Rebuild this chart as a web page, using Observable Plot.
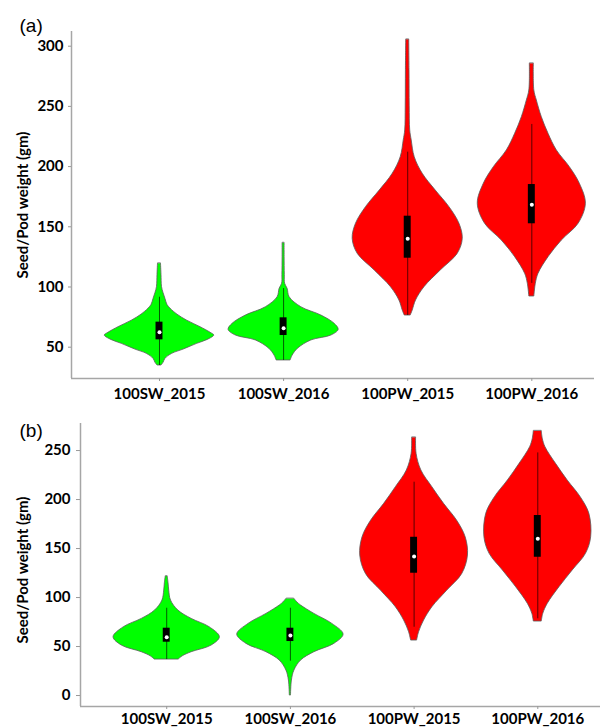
<!DOCTYPE html>
<html>
<head>
<meta charset="utf-8">
<script src="https://cdn.jsdelivr.net/npm/d3@7"></script>
<script src="https://cdn.jsdelivr.net/npm/@observablehq/plot@0.6"></script>
<style>
  html, body { margin: 0; padding: 0; background: #fff; }
  #chart { width: 603px; }
  #chart svg { display: block; }
</style>
</head>
<body>
<div id="chart"></div>
<script>
// ---------- DATA ----------
const categories = ["100SW_2015", "100SW_2016", "100PW_2015", "100PW_2016"];
const yTicksA = [50, 100, 150, 200, 250, 300];
const yTicksB = [0, 50, 100, 150, 200, 250];

// Violin profiles: [value (gm), relative half-width (density)]
// Panel (a)
const a_SW2015 = [[119.3,1.5],[110,2],[100,2.5],[95,4],[90,6],[85,8],[82,11],[77,18],[72,27.7],[66.6,41],[62,51],[59.7,54.7],[56,48],[52.8,37.7],[48,24],[44.5,12.7],[40.4,6],[37,4],[34.8,2]];
const a_SW2016 = [[136.4,1],[125,1],[110,1.2],[102.7,1.5],[98.5,4],[91.5,6],[83.2,17.7],[76.3,37.7],[69.4,51],[64.4,55],[59.7,47.7],[55.6,27.7],[48.7,14.3],[43,9],[39,7]];
const a_PW2015 = [[305.3,1.5],[280,1.8],[250,2],[230,2.5],[221.7,4],[207.8,7],[194,15],[180.1,28],[166.3,41.7],[152.5,51.7],[140,55],[127.6,50],[113.7,33],[99.8,16.7],[88.8,8.3],[80.5,5],[76.3,3]];
const a_PW2016 = [[285.4,2],[263.2,2.5],[254.9,5],[241,10],[227.2,16.7],[213.4,25],[199.5,38],[185.7,48],[169.1,54],[152.5,46.7],[138.6,30],[124.8,16.7],[111,6.7],[102.7,4],[92.1,2.5]];
// Panel (b)
const b_SW2015 = [[121.4,1],[115,1.8],[107.1,2.5],[96.9,4.3],[86.7,11.7],[78.2,25],[69.7,43],[59.5,53.3],[51,45],[44.2,25],[40,16],[36.7,12]];
const b_SW2016 = [[98.6,4],[95,7],[91.8,10.7],[83.3,24],[73.1,42],[62.2,53.3],[52.7,44],[44.2,24],[35.7,10.7],[25.5,4],[15.3,1.5],[0,0.6]];
const b_PW2015 = [[263,2],[246.6,2.5],[229.6,7.3],[212.6,18.3],[195.6,30],[178.6,43],[161.5,51.7],[142.9,54],[124.1,48.3],[107.1,33.3],[90.1,18.3],[76.5,10],[64.6,5],[56.1,3]];
const b_PW2016 = [[269.7,4],[262,5],[253.4,7.7],[236.4,18.3],[219.4,30],[202.4,43],[185.4,51.7],[161.5,53.5],[144.6,48.3],[127.6,35],[110.5,21.7],[93.6,10],[83.4,5.5],[75.5,4]];

// Box plot statistics per category
const boxA_lo  = [34.8, 39.0, 76.3, 103.0];
const boxA_q1  = [56.1, 59.7, 123.9, 152.5];
const boxA_med = [62.5, 65.8, 140.0, 168.3];
const boxA_q3  = [70.8, 74.4, 158.8, 185.1];
const boxA_hi  = [91.5, 98.7, 212.0, 235.0];

const boxB_lo  = [36.7, 35.0, 69.7, 78.3];
const boxB_q1  = [54.4, 55.1, 124.8, 141.1];
const boxB_med = [59.5, 61.2, 141.8, 159.9];
const boxB_q3  = [68.7, 68.7, 161.5, 183.7];
const boxB_hi  = [89.1, 89.1, 217.7, 247.6];

// ---------- DRAWING ----------
const FONT = "Lato, 'Open Sans', sans-serif";
const densityScale = 1 / 124;   // half-width units -> category units
const boxHalf = 0.028;
const colorOf = (cat) => cat.startsWith("100SW") ? "#00ff00" : "#ff0000";

function panel(cfg) {
  const rows = cfg.profiles.flatMap((prof, i) =>
    prof.map(([v, w]) => ({cat: categories[i], i, v, w})));
  const stats = categories.map((cat, i) => ({
    cat, i, lo: cfg.lo[i], q1: cfg.q1[i], med: cfg.med[i], q3: cfg.q3[i], hi: cfg.hi[i]
  }));
  return Plot.plot({
    width: 603,
    height: cfg.height,
    marginTop: cfg.marginTop,
    marginBottom: cfg.marginBottom,
    marginLeft: cfg.marginLeft,
    marginRight: cfg.marginRight,
    style: {fontFamily: FONT, fontSize: "15px", fontWeight: "bold", color: "black", background: "white", overflow: "visible"},
    x: {type: "linear", domain: cfg.xDomain, label: null},
    y: {type: "linear", domain: cfg.yDomain, label: null},
    marks: [
      Plot.areaX(rows, {
        y: "v",
        x1: d => d.i - d.w * densityScale,
        x2: d => d.i + d.w * densityScale,
        z: "cat",
        fill: d => colorOf(d.cat),
        stroke: "#5a5a5a",
        strokeWidth: 0.8,
        curve: "catmull-rom"
      }),
      Plot.ruleX(stats, {x: "i", y1: "lo", y2: "hi", stroke: "black", strokeOpacity: 0.65, strokeWidth: 1}),
      Plot.rect(stats, {x1: d => d.i - boxHalf, x2: d => d.i + boxHalf, y1: "q1", y2: "q3", fill: "black"}),
      Plot.dot(stats, {x: "i", y: "med", r: 2, fill: "white", stroke: null}),
      Plot.ruleX([cfg.xDomain[0]], {stroke: "#a6a6a6", strokeWidth: 1.5}),
      Plot.ruleY([cfg.yDomain[0]], {stroke: "#a6a6a6", strokeWidth: 1.5}),
      Plot.axisY(cfg.yTicks, {tickSize: cfg.yTickSize, tickPadding: cfg.yTickPadding, stroke: "#999", fill: "black", label: null}),
      Plot.axisX([0, 1, 2, 3], {tickFormat: i => categories[i], tickSize: 3, tickPadding: cfg.xTickPadding, stroke: "#999", fill: "black", label: null}),
      Plot.text(["Seed/Pod weight (gm)"], {
        frameAnchor: "left", rotate: -90, dx: cfg.labelDx, dy: cfg.labelDy,
        textAnchor: "middle", lineAnchor: "middle", fontSize: 15, fontWeight: "bold", fill: "black"
      }),
      Plot.text([cfg.tag], {
        frameAnchor: "top-left", dx: cfg.tagDx, dy: cfg.tagDy,
        textAnchor: "start", lineAnchor: "bottom", fontSize: 19, fontWeight: "normal",
        fontFamily: "'Liberation Sans', Arial, sans-serif", fill: "black"
      })
    ]
  });
}

const chart = document.getElementById("chart");
chart.append(panel({
  profiles: [a_SW2015, a_SW2016, a_PW2015, a_PW2016],
  lo: boxA_lo, q1: boxA_q1, med: boxA_med, q3: boxA_q3, hi: boxA_hi,
  height: 400, marginTop: 31, marginBottom: 22, marginLeft: 71, marginRight: 9,
  xDomain: [-0.709, 3.505], yDomain: [24, 312.2], yTicks: yTicksA,
  yTickSize: 3, yTickPadding: 5, xTickPadding: 7,
  labelDx: -48, labelDy: 0, tag: "(a)", tagDx: -52, tagDy: 0
}));
chart.append(panel({
  profiles: [b_SW2015, b_SW2016, b_PW2015, b_PW2016],
  lo: boxB_lo, q1: boxB_q1, med: boxB_med, q3: boxB_q3, hi: boxB_hi,
  height: 328, marginTop: 23, marginBottom: 22, marginLeft: 80, marginRight: 3,
  xDomain: [-0.697, 3.507], yDomain: [-11.2, 277.6], yTicks: yTicksB,
  yTickSize: 4, yTickPadding: 6, xTickPadding: 4,
  labelDx: -57, labelDy: 5, tag: "(b)", tagDx: -61, tagDy: 13
}));
</script>
</body>
</html>
